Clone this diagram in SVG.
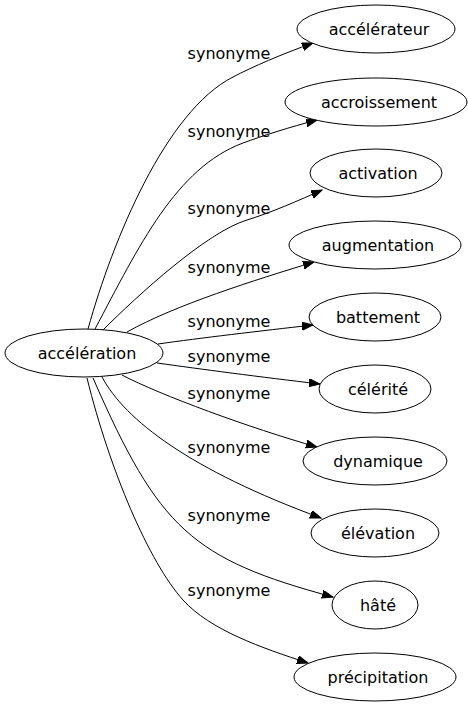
<svg xmlns="http://www.w3.org/2000/svg" width="468" height="707" viewBox="0 0 468 707">
<style>
  .node ellipse { fill: #ffffff; stroke: #000000; stroke-width: 1; }
  .node text { font-family: "DejaVu Sans", sans-serif; font-size: 16px; fill: #000000; text-anchor: middle; }
  .edge path { fill: none; stroke: #000000; stroke-width: 1; marker-end: url(#arrow); }
  .lbl { font-family: "DejaVu Sans", sans-serif; font-size: 16px; fill: #000000; text-anchor: middle; }
</style>
<defs>
  <marker id="arrow" markerUnits="userSpaceOnUse" markerWidth="13" markerHeight="10" refX="11" refY="4" orient="auto">
    <polygon points="0,0 11,4 0,8" fill="#000000" stroke="#000000" stroke-width="1"/>
  </marker>
</defs>
<rect x="0" y="0" width="468" height="707" fill="#ffffff"/>
<g id="edges" class="edge">
  <path d="M88,329 C113,239 166,111 233,77 C252,67 282,54 313,43"/>
  <path d="M95,329 C139,246 176,168 243,143 C262,136 290,127 317,120"/>
  <path d="M103,330 C138,295 207,232 247,220 C270,213 300,200 322,190"/>
  <path d="M127,332 C175,305 255,280 314,262"/>
  <path d="M158,344 C200,338 260,331 313,325"/>
  <path d="M157,363 C200,369 260,377 320,384"/>
  <path d="M122,375 C160,395 250,428 317,447"/>
  <path d="M102,377 C125,420 190,470 321,518"/>
  <path d="M93,378 C159,529 192,559 333,597"/>
  <path d="M87,378 C110,471 149,562 183,600 C210,630 262,648 308,663"/>
  <text class="lbl" x="229" y="59">synonyme</text>
  <text class="lbl" x="229" y="137">synonyme</text>
  <text class="lbl" x="229" y="214">synonyme</text>
  <text class="lbl" x="229" y="273">synonyme</text>
  <text class="lbl" x="229" y="327">synonyme</text>
  <text class="lbl" x="229" y="362">synonyme</text>
  <text class="lbl" x="229" y="399">synonyme</text>
  <text class="lbl" x="229" y="453">synonyme</text>
  <text class="lbl" x="229" y="521">synonyme</text>
  <text class="lbl" x="229" y="596">synonyme</text>
</g>
<g id="node-acceleration" class="node">
  <ellipse cx="84" cy="353" rx="79" ry="24"/>
  <text x="87" y="359">accélération</text>
</g>
<g id="node-accelerateur" class="node">
  <ellipse cx="376" cy="29" rx="79" ry="24"/>
  <text x="379" y="35">accélérateur</text>
</g>
<g id="node-accroissement" class="node">
  <ellipse cx="376" cy="102" rx="91" ry="24"/>
  <text x="379" y="108">accroissement</text>
</g>
<g id="node-activation" class="node">
  <ellipse cx="376" cy="173" rx="66" ry="24"/>
  <text x="378" y="179">activation</text>
</g>
<g id="node-augmentation" class="node">
  <ellipse cx="375" cy="245" rx="86" ry="24"/>
  <text x="378" y="251">augmentation</text>
</g>
<g id="node-battement" class="node">
  <ellipse cx="375" cy="317" rx="66" ry="24"/>
  <text x="378" y="323">battement</text>
</g>
<g id="node-celerite" class="node">
  <ellipse cx="375" cy="389" rx="56" ry="24"/>
  <text x="378" y="395">célérité</text>
</g>
<g id="node-dynamique" class="node">
  <ellipse cx="375" cy="461" rx="72" ry="24"/>
  <text x="378" y="467">dynamique</text>
</g>
<g id="node-elevation" class="node">
  <ellipse cx="375" cy="533" rx="64" ry="24"/>
  <text x="378" y="539">élévation</text>
</g>
<g id="node-hate" class="node">
  <ellipse cx="375" cy="605" rx="43" ry="24"/>
  <text x="378" y="611">hâté</text>
</g>
<g id="node-precipitation" class="node">
  <ellipse cx="375" cy="677" rx="81" ry="24"/>
  <text x="378" y="683">précipitation</text>
</g>
</svg>
